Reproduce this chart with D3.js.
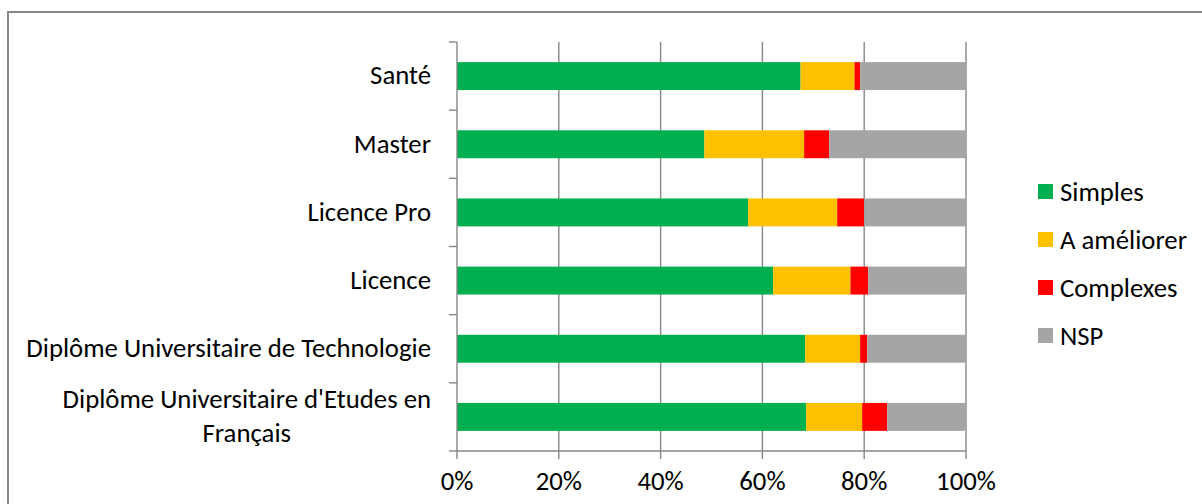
<!DOCTYPE html>
<html><head><meta charset="utf-8">
<script src="https://cdn.jsdelivr.net/npm/d3@7"></script>
<style>body{margin:0;background:#fff;} svg{display:block;}</style>
</head><body>
<svg id="c" width="1202" height="504"></svg>
<script>
const categories = ["Santé","Master","Licence Pro","Licence","Diplôme Universitaire de Technologie","Diplôme Universitaire d'Etudes en Français"];
const seriesNames = ["Simples","A améliorer","Complexes","NSP"];
const simples   = [67.5, 48.6, 57.2, 62.1, 68.4, 68.6];
const ameliorer = [10.6, 19.6, 17.5, 15.2, 10.8, 11.0];
const complexes = [1.1, 4.9, 5.3, 3.5, 1.4, 4.9];
const nsp       = [20.8, 26.9, 20.0, 19.2, 19.4, 15.5];
const xTicks = [0, 20, 40, 60, 80, 100];
const colors = ["#00B050","#FFC000","#FF0000","#A5A5A5"];

const svg = d3.select("#c");
const FONT = "Carlito, Calibri, Lato, 'Open Sans', sans-serif";
// fit font size to reference label width
const probe = svg.append("text").attr("font-family", FONT).attr("font-size", 20).text("Diplôme Universitaire de Technologie");
const fs = 20 * 405 / probe.node().getComputedTextLength();
probe.remove();

const gray = "#878787";
// outer border
svg.append("rect").attr("x", 8).attr("y", 12).attr("width", 1210).attr("height", 520)
  .attr("fill", "none").attr("stroke", gray).attr("stroke-width", 2);

const x = d3.scaleLinear().domain([0, 100]).range([457, 966]);
const y = d3.scaleBand().domain(categories).range([42, 451]).paddingInner(0.59).paddingOuter(0.295);
const step = y.step();

const rows = categories.map((c, i) => ({cat: c, Simples: simples[i], "A améliorer": ameliorer[i], Complexes: complexes[i], NSP: nsp[i]}));
const stack = d3.stack().keys(seriesNames)(rows);

// gridlines
svg.append("g").selectAll("line").data(xTicks.slice(1)).join("line")
  .attr("x1", d => x(d)).attr("x2", d => x(d)).attr("y1", 42).attr("y2", 451)
  .attr("stroke", gray).attr("stroke-width", 1.4);

// bars
svg.append("g").selectAll("g").data(stack).join("g")
  .attr("fill", (d, i) => colors[i])
  .selectAll("rect").data(d => d).join("rect")
  .attr("x", d => x(d[0])).attr("width", d => x(d[1]) - x(d[0]))
  .attr("y", d => y(d.data.cat)).attr("height", y.bandwidth());

// y axis line + ticks at band boundaries
const yb = d3.range(categories.length + 1).map(i => 42 + i * step);
svg.append("line").attr("x1", x(0)).attr("x2", x(0)).attr("y1", 42).attr("y2", 451).attr("stroke", gray).attr("stroke-width", 1.4);
svg.append("g").selectAll("line").data(yb).join("line")
  .attr("x1", x(0) - 8).attr("x2", x(0)).attr("y1", d => d).attr("y2", d => d)
  .attr("stroke", gray).attr("stroke-width", 1.4);
// x axis line + ticks
svg.append("line").attr("x1", x(0)).attr("x2", x(100)).attr("y1", 451).attr("y2", 451).attr("stroke", gray).attr("stroke-width", 1.4);
svg.append("g").selectAll("line").data(xTicks).join("line")
  .attr("x1", d => x(d)).attr("x2", d => x(d)).attr("y1", 451).attr("y2", 459)
  .attr("stroke", gray).attr("stroke-width", 1.4);
svg.append("g").selectAll("text").data(xTicks).join("text")
  .attr("x", d => x(d)).attr("y", 481).attr("dy", "0.35em")
  .attr("text-anchor", "middle").attr("font-family", FONT).attr("font-size", fs).attr("fill", "#000")
  .text(d => d + "%");

// category labels with wrapping
const maxW = 415, lineH = 34;
categories.forEach(c => {
  const words = c.split(" ");
  const t = svg.append("text").attr("font-family", FONT).attr("font-size", fs).attr("fill", "#000");
  const lines = []; let cur = [];
  words.forEach(w => {
    t.text([...cur, w].join(" "));
    if (cur.length && t.node().getComputedTextLength() > maxW) { lines.push(cur.join(" ")); cur = [w]; }
    else cur.push(w);
  });
  lines.push(cur.join(" "));
  const widths = lines.map(l => { t.text(l); return t.node().getComputedTextLength(); });
  t.text(null);
  const W = d3.max(widths);
  const cy = y(c) + y.bandwidth() / 2 - 1;
  const cx = 431 - W / 2;
  t.attr("text-anchor", lines.length > 1 ? "middle" : "end");
  lines.forEach((l, i) => {
    t.append("tspan").attr("x", lines.length > 1 ? cx : 431)
      .attr("y", cy + (i - (lines.length - 1) / 2) * lineH).attr("dy", "0.35em").text(l);
  });
});

// legend
const lg = svg.append("g").selectAll("g").data(seriesNames).join("g")
  .attr("transform", (d, i) => `translate(1038,${191.5 + i * 48})`);
lg.append("rect").attr("x", 0).attr("y", -7.5).attr("width", 15).attr("height", 15).attr("fill", (d, i) => colors[i]);
lg.append("text").attr("x", 22).attr("y", 0).attr("dy", "0.35em")
  .attr("font-family", FONT).attr("font-size", fs).attr("fill", "#000").text(d => d);
</script>
</body></html>
